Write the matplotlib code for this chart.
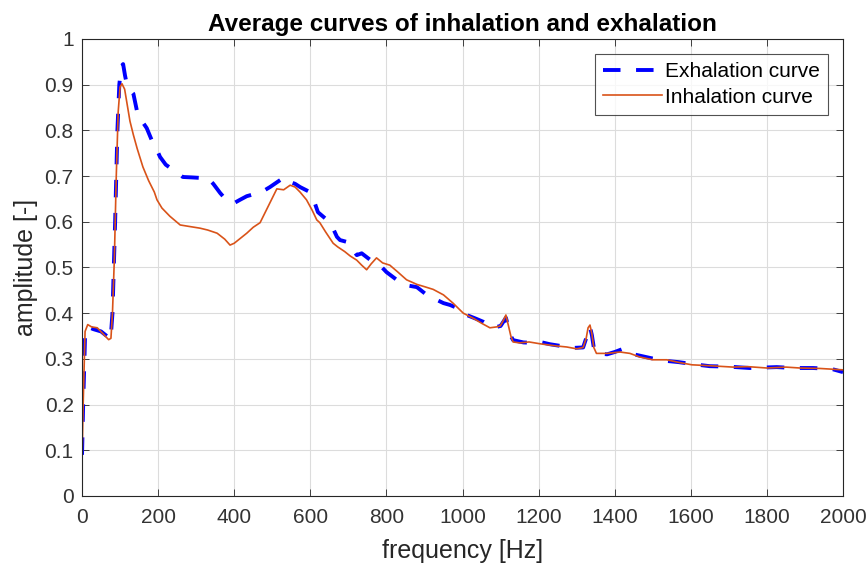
import numpy as np
import matplotlib
matplotlib.use("Agg")
import matplotlib.pyplot as plt

plt.rcParams["font.family"] = ["Liberation Sans", "DejaVu Sans"]

# averaged spectra, amplitude vs frequency [Hz]
exh_freq = [0, 3, 8, 15, 30, 50, 65, 75, 80, 87, 93, 98, 103, 108, 113, 117, 125, 135,
            145, 152, 170, 185, 197, 205, 220, 240, 265, 290, 310, 328, 345, 363, 384,
            400, 415, 433, 450, 468, 494, 515, 533, 547, 560, 573, 599, 610, 620, 644,
            660, 670, 678, 700, 722, 735, 760, 783, 800, 827, 836, 860, 880, 906, 930,
            950, 967, 990, 1011, 1035, 1055, 1080, 1100, 1108, 1114, 1120, 1127, 1133,
            1160, 1185, 1204, 1230, 1260, 1290, 1317, 1325, 1330, 1335, 1340, 1345,
            1352, 1380, 1400, 1422, 1450, 1493, 1530, 1567, 1610, 1650, 1700, 1755,
            1790, 1826, 1870, 1921, 1970, 2000]
exh_amp = [0.09, 0.20, 0.35, 0.37, 0.365, 0.36, 0.35, 0.342, 0.40, 0.60, 0.80, 0.90,
           0.94, 0.945, 0.92, 0.904, 0.89, 0.88, 0.84, 0.827, 0.805, 0.775, 0.757,
           0.742, 0.725, 0.713, 0.698, 0.697, 0.696, 0.698, 0.683, 0.663, 0.643, 0.641,
           0.648, 0.656, 0.66, 0.663, 0.676, 0.688, 0.698, 0.687, 0.683, 0.676, 0.665,
           0.645, 0.621, 0.604, 0.585, 0.567, 0.56, 0.555, 0.527, 0.531, 0.515, 0.505,
           0.49, 0.473, 0.466, 0.46, 0.457, 0.44, 0.43, 0.422, 0.418, 0.41, 0.396,
           0.388, 0.381, 0.368, 0.372, 0.382, 0.39, 0.372, 0.35, 0.341, 0.336, 0.335,
           0.337, 0.332, 0.328, 0.324, 0.325, 0.345, 0.365, 0.37, 0.352, 0.325, 0.312,
           0.31, 0.315, 0.322, 0.31, 0.302, 0.296, 0.293, 0.288, 0.284, 0.283, 0.28,
           0.281, 0.282, 0.28, 0.28, 0.278, 0.271]

inh_freq = [0, 3, 8, 15, 25, 40, 55, 70, 76, 80, 85, 90, 95, 100, 105, 112, 120, 126,
            135, 145, 160, 175, 190, 197, 210, 231, 258, 280, 310, 330, 355, 375, 389,
            400, 415, 433, 450, 468, 490, 512, 530, 547, 560, 573, 590, 605, 617, 625,
            640, 660, 672, 690, 705, 722, 735, 748, 760, 774, 790, 809, 830, 853, 880,
            900, 923, 950, 975, 1002, 1030, 1050, 1072, 1090, 1099, 1108, 1114, 1120,
            1127, 1133, 1150, 1175, 1204, 1230, 1250, 1274, 1300, 1317, 1325, 1330,
            1335, 1340, 1345, 1352, 1380, 1414, 1440, 1466, 1500, 1537, 1570, 1603,
            1650, 1711, 1750, 1800, 1850, 1887, 1940, 2000]
inh_amp = [0.08, 0.20, 0.36, 0.375, 0.37, 0.368, 0.355, 0.342, 0.345, 0.40, 0.52, 0.70,
           0.84, 0.895, 0.902, 0.89, 0.85, 0.82, 0.79, 0.76, 0.72, 0.69, 0.665, 0.648,
           0.63, 0.612, 0.593, 0.59, 0.586, 0.582, 0.575, 0.562, 0.549, 0.553, 0.563,
           0.575, 0.588, 0.598, 0.635, 0.672, 0.67, 0.68, 0.676, 0.665, 0.648, 0.625,
           0.604, 0.598, 0.578, 0.553, 0.545, 0.535, 0.525, 0.516, 0.505, 0.495, 0.508,
           0.521, 0.51, 0.505, 0.49, 0.473, 0.463, 0.458, 0.452, 0.44, 0.422, 0.40,
           0.388, 0.378, 0.368, 0.37, 0.372, 0.385, 0.396, 0.375, 0.35, 0.337, 0.335,
           0.337, 0.333, 0.33, 0.328, 0.326, 0.322, 0.325, 0.345, 0.368, 0.374, 0.355,
           0.325, 0.312, 0.312, 0.315, 0.312, 0.304, 0.298, 0.298, 0.292, 0.287, 0.285,
           0.282, 0.283, 0.28, 0.282, 0.28, 0.279, 0.276]

x_ticks = np.arange(0, 2001, 200)
y_ticks = np.round(np.arange(0, 1.01, 0.1), 1)
y_labels = ["0"] + [f"{v:g}" for v in y_ticks[1:]]

fig = plt.figure(figsize=(8.68, 5.68), dpi=100)
ax = fig.add_axes([0.0945, 0.1268, 0.8767, 0.8046])

ax.plot(exh_freq, exh_amp, color="#0000ff", lw=2.8, dashes=(4.5, 4.0),
        label="Exhalation curve")
ax.plot(inh_freq, inh_amp, color="#d95319", lw=1.2, label="Inhalation curve")

ax.set_xlim(0, 2000)
ax.set_ylim(0, 1)
ax.set_xticks(x_ticks)
ax.set_yticks(y_ticks)
ax.set_yticklabels(y_labels)
ax.tick_params(direction="in", top=True, right=True, labelsize=15,
               colors="#262626", labelcolor="#333333", length=5, width=0.6)
ax.tick_params(axis="x", pad=9)
ax.tick_params(axis="y", pad=6)
ax.grid(True, color="#dcdcdc", lw=0.8)
ax.set_axisbelow(True)
for s in ax.spines.values():
    s.set_color("#262626")
    s.set_linewidth(0.8)

ax.set_xlabel("frequency [Hz]", fontsize=18, color="#262626", labelpad=8)
ax.set_ylabel("amplitude [-]", fontsize=18, color="#262626", labelpad=5)
ax.set_title("Average curves of inhalation and exhalation", fontsize=17.5,
             fontweight="bold", pad=6)

leg = ax.legend(loc="upper right", fontsize=15, frameon=True, fancybox=False,
                edgecolor="#262626", borderaxespad=0.72, handlelength=2.8,
                handletextpad=0.15, borderpad=0.4, labelspacing=0.3)
leg.get_frame().set_linewidth(0.8)

fig.savefig("out.png", dpi=100)
